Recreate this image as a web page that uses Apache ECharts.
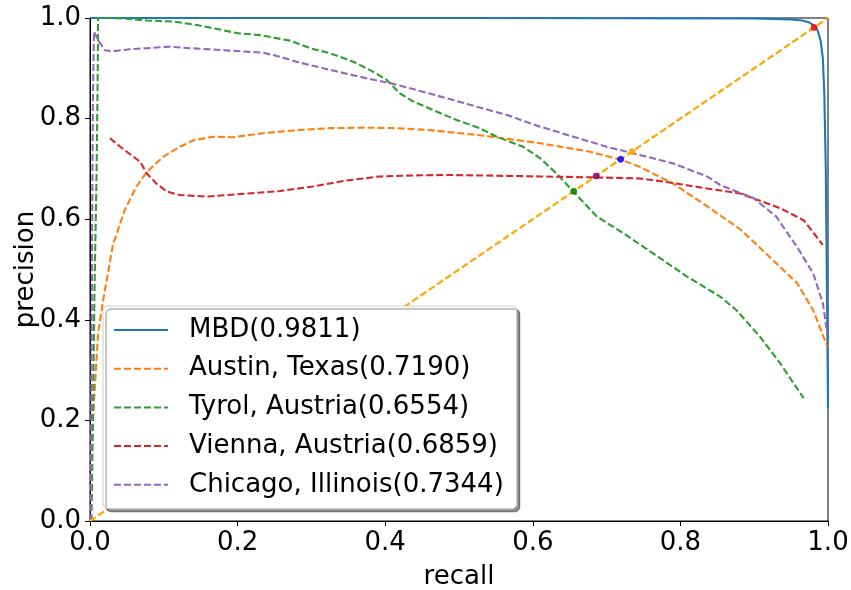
<!DOCTYPE html>
<html>
<head>
<meta charset="utf-8">
<script src="https://cdn.jsdelivr.net/npm/echarts@6/dist/echarts.min.js"></script>
<style>
html,body{margin:0;padding:0;background:#fff;}
#chart{width:851px;height:590px;}
</style>
</head>
<body>
<div id="chart"></div>
<script>
const seriesNames = ['MBD(0.9811)', 'Austin, Texas(0.7190)', 'Tyrol, Austria(0.6554)', 'Vienna, Austria(0.6859)', 'Chicago, Illinois(0.7344)'];
const seriesColors = ['#1f77b4', '#ff7f0e', '#2ca02c', '#d62728', '#9467bd'];

const mbdRecall = [0, 0.5, 0.9, 0.95, 0.965, 0.975, 0.981, 0.986, 0.99, 0.993, 0.995, 0.997, 0.998, 0.999, 1.0];
const mbdPrecision = [1.0, 1.0, 0.999, 0.997, 0.995, 0.991, 0.985, 0.975, 0.955, 0.92, 0.85, 0.7, 0.55, 0.4, 0.224];

const austinRecall = [0.001, 0.004, 0.008, 0.011, 0.018, 0.031, 0.047, 0.063, 0.077, 0.099, 0.122, 0.140, 0.167, 0.194, 0.235, 0.280, 0.325, 0.370, 0.416, 0.461, 0.528, 0.610, 0.678, 0.720, 0.745, 0.790, 0.836, 0.881, 0.921, 0.958, 0.980, 0.999];
const austinPrecision = [0.10, 0.20, 0.30, 0.374, 0.44, 0.549, 0.618, 0.665, 0.694, 0.724, 0.744, 0.757, 0.764, 0.763, 0.771, 0.777, 0.781, 0.782, 0.781, 0.777, 0.767, 0.751, 0.734, 0.718, 0.704, 0.671, 0.626, 0.580, 0.525, 0.473, 0.419, 0.347];

const tyrolRecall = [0.002, 0.004, 0.006, 0.009, 0.0105, 0.011, 0.03, 0.054, 0.077, 0.113, 0.145, 0.176, 0.199, 0.230, 0.271, 0.298, 0.325, 0.357, 0.384, 0.402, 0.420, 0.438, 0.465, 0.497, 0.528, 0.551, 0.587, 0.610, 0.632, 0.655, 0.687, 0.723, 0.763, 0.809, 0.854, 0.876, 0.908, 0.935, 0.967];
const tyrolPrecision = [0.0, 0.2, 0.45, 0.7, 0.9, 1.0, 1.0, 0.998, 0.995, 0.993, 0.986, 0.977, 0.970, 0.966, 0.955, 0.940, 0.930, 0.913, 0.893, 0.877, 0.850, 0.834, 0.817, 0.797, 0.781, 0.764, 0.744, 0.721, 0.691, 0.655, 0.605, 0.572, 0.532, 0.486, 0.446, 0.419, 0.366, 0.314, 0.244];

const viennaRecall = [0.027, 0.041, 0.068, 0.077, 0.090, 0.104, 0.122, 0.158, 0.212, 0.257, 0.302, 0.348, 0.393, 0.438, 0.483, 0.528, 0.610, 0.687, 0.745, 0.786, 0.836, 0.881, 0.935, 0.967, 0.993];
const viennaPrecision = [0.761, 0.744, 0.714, 0.691, 0.671, 0.655, 0.648, 0.645, 0.651, 0.656, 0.665, 0.677, 0.685, 0.687, 0.688, 0.687, 0.685, 0.683, 0.681, 0.673, 0.661, 0.651, 0.622, 0.598, 0.549];

const chicagoRecall = [0.001, 0.002, 0.003, 0.004, 0.0054, 0.011, 0.020, 0.031, 0.054, 0.077, 0.108, 0.136, 0.181, 0.235, 0.257, 0.285, 0.325, 0.366, 0.411, 0.447, 0.492, 0.528, 0.565, 0.610, 0.655, 0.700, 0.736, 0.790, 0.836, 0.854, 0.876, 0.899, 0.930, 0.958, 0.980, 0.993, 0.999];
const chicagoPrecision = [0.0, 0.3, 0.6, 0.85, 0.973, 0.956, 0.936, 0.934, 0.938, 0.940, 0.943, 0.940, 0.936, 0.931, 0.923, 0.911, 0.897, 0.883, 0.869, 0.855, 0.837, 0.822, 0.807, 0.784, 0.764, 0.744, 0.731, 0.711, 0.685, 0.668, 0.655, 0.642, 0.605, 0.545, 0.492, 0.433, 0.373];

const diagonalRecall = [0, 1];
const diagonalPrecision = [0, 1];

const scoreValues = [0.9811, 0.7190, 0.6554, 0.6859, 0.7344];
const scoreColors = ['#ff0000', '#0000ff', '#008000', '#800080', '#ffa500'];

function zip(xs, ys) { return xs.map((x, i) => [x, ys[i]]); }

const curves = [
  zip(mbdRecall, mbdPrecision),
  zip(austinRecall, austinPrecision),
  zip(tyrolRecall, tyrolPrecision),
  zip(viennaRecall, viennaPrecision),
  zip(chicagoRecall, chicagoPrecision)
];

const FONT = 'DejaVu Sans';

const series = curves.map((d, i) => ({
  name: seriesNames[i],
  type: 'line',
  data: d,
  symbol: 'none',
  showSymbol: false,
  smooth: false,
  z: 2,
  lineStyle: { color: seriesColors[i], width: 2.1, type: i === 0 ? 'solid' : [7, 3] },
  itemStyle: { color: seriesColors[i] }
}));

series.push({
  name: 'diagonal',
  type: 'line',
  data: zip(diagonalRecall, diagonalPrecision),
  symbol: 'none',
  z: 3,
  lineStyle: { color: '#ffa500', width: 2.2, type: [7, 3] }
});

series.push({
  name: 'scores',
  type: 'scatter',
  z: 4,
  symbolSize: 6,
  data: scoreValues.map((v, i) => ({ value: [v, v], itemStyle: { color: scoreColors[i], borderColor: scoreColors[i], borderWidth: 1 } }))
});

const chart = echarts.init(document.getElementById('chart'), null, { renderer: 'canvas' });
chart.setOption({
  animation: false,
  backgroundColor: '#ffffff',
  textStyle: { fontFamily: FONT },
  grid: { left: 90, right: 23, top: 18, bottom: 69, outerBoundsMode: 'none', containLabel: false, show: true, borderColor: '#000', borderWidth: 1, backgroundColor: 'transparent' },
  xAxis: {
    type: 'value', min: 0, max: 1, interval: 0.2,
    name: 'recall', nameLocation: 'middle', nameGap: 43, nameMoveOverlap: false,
    nameTextStyle: { fontSize: 26, color: '#000', fontFamily: FONT },
    axisLine: { show: true, lineStyle: { color: '#000', width: 1 } },
    axisTick: { show: true, inside: false, length: 5, lineStyle: { color: '#000' } },
    axisLabel: { fontSize: 26, color: '#000', fontFamily: FONT, margin: 9, formatter: v => v.toFixed(1) },
    splitLine: { show: false }
  },
  yAxis: {
    type: 'value', min: 0, max: 1, interval: 0.2,
    name: 'precision', nameLocation: 'middle', nameGap: 51, nameMoveOverlap: false,
    nameTextStyle: { fontSize: 26, color: '#000', fontFamily: FONT },
    axisLine: { show: true, lineStyle: { color: '#000', width: 1 } },
    axisTick: { show: true, inside: false, length: 5, lineStyle: { color: '#000' } },
    axisLabel: { fontSize: 26, color: '#000', fontFamily: FONT, margin: 9, formatter: v => v.toFixed(1) },
    splitLine: { show: false }
  },
  legend: {
    data: seriesNames,
    orient: 'vertical',
    left: 103, top: 306,
    itemWidth: 54, itemHeight: 14, itemGap: 8.7,
    padding: [9, 13, 9, 10],
    backgroundColor: '#ffffff',
    borderColor: '#cccccc', borderWidth: 1, borderRadius: 5,
    shadowColor: 'rgba(0,0,0,0.45)', shadowOffsetX: 3, shadowOffsetY: 3, shadowBlur: 0,
    itemStyle: { opacity: 0 },
    textStyle: { fontSize: 26, color: '#000', fontFamily: FONT, lineHeight: 30, padding: [0, 0, 0, 16] }
  },
  series: series
});
</script>
</body>
</html>
